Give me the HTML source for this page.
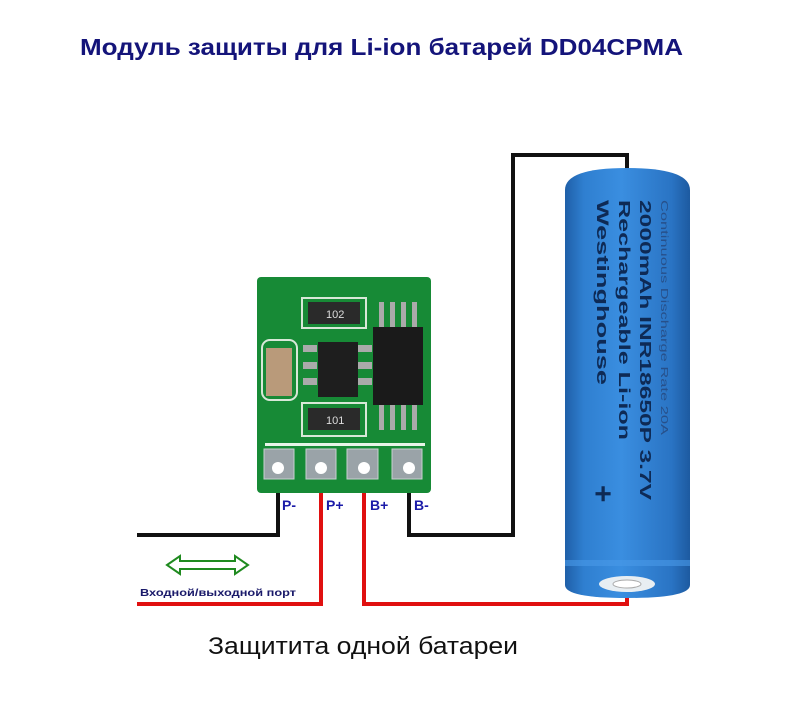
<!DOCTYPE html>
<html><head><meta charset="utf-8"><style>
html,body{margin:0;padding:0;background:#fff;width:800px;height:714px;overflow:hidden}
svg{display:block}
</style></head><body>
<svg width="800" height="714" viewBox="0 0 800 714" xmlns="http://www.w3.org/2000/svg" font-family="Liberation Sans, sans-serif">
<defs>
<linearGradient id="bat" x1="0" x2="1" y1="0" y2="0">
<stop offset="0" stop-color="#1f5fa8"/><stop offset="0.15" stop-color="#2f7fd0"/><stop offset="0.45" stop-color="#3a8ee0"/><stop offset="0.85" stop-color="#2a74c4"/><stop offset="1" stop-color="#1d5aa0"/>
</linearGradient>
</defs>
<text x="80" y="55" font-size="23" font-weight="bold" fill="#14147a" textLength="603" lengthAdjust="spacingAndGlyphs">Модуль защиты для Li-ion батарей DD04CPMA</text>

<polyline points="278,470 278,535 137,535" fill="none" stroke="#111" stroke-width="4"/>
<polyline points="409,470 409,535 513,535 513,155 627,155 627,172" fill="none" stroke="#111" stroke-width="4"/>
<polyline points="321,470 321,604 137,604" fill="none" stroke="#e01010" stroke-width="4"/>
<polyline points="364,470 364,604 627,604 627,588" fill="none" stroke="#e01010" stroke-width="4"/>

<rect x="257" y="277" width="174" height="216" rx="4" fill="#178a36"/>
<rect x="265" y="443" width="160" height="3" fill="#e8f5e8"/>
<g fill="#9aa3a8" stroke="#c8d0d0" stroke-width="1">
<rect x="264" y="449" width="30" height="30"/><rect x="306" y="449" width="30" height="30"/><rect x="347" y="449" width="31" height="30"/><rect x="392" y="449" width="30" height="30"/>
</g>
<g fill="#fff"><circle cx="278" cy="468" r="6"/><circle cx="321" cy="468" r="6"/><circle cx="364" cy="468" r="6"/><circle cx="409" cy="468" r="6"/></g>
<rect x="302" y="298" width="64" height="30" fill="none" stroke="#d8e8d8" stroke-width="2"/>
<rect x="308" y="302" width="52" height="22" fill="#2a2a2a"/><text x="326" y="318" font-size="11" fill="#ddd">102</text>
<rect x="302" y="403" width="64" height="33" fill="none" stroke="#d8e8d8" stroke-width="2"/>
<rect x="308" y="408" width="52" height="22" fill="#2a2a2a"/><text x="326" y="424" font-size="11" fill="#ddd">101</text>
<rect x="262" y="340" width="35" height="60" rx="8" fill="none" stroke="#d8e8d8" stroke-width="2"/>
<rect x="266" y="348" width="26" height="48" fill="#b99a7a"/>
<rect x="318" y="342" width="40" height="55" fill="#1e1e1e"/>
<g fill="#aaa"><rect x="303" y="345" width="14" height="7"/><rect x="303" y="362" width="14" height="7"/><rect x="303" y="378" width="14" height="7"/><rect x="358" y="345" width="14" height="7"/><rect x="358" y="362" width="14" height="7"/><rect x="358" y="378" width="14" height="7"/></g>
<rect x="373" y="327" width="50" height="78" fill="#1a1a1a"/>
<g fill="#aaa"><rect x="379" y="302" width="5" height="25"/><rect x="390" y="302" width="5" height="25"/><rect x="401" y="302" width="5" height="25"/><rect x="412" y="302" width="5" height="25"/>
<rect x="379" y="405" width="5" height="25"/><rect x="390" y="405" width="5" height="25"/><rect x="401" y="405" width="5" height="25"/><rect x="412" y="405" width="5" height="25"/></g>

<g font-size="14" font-weight="bold" fill="#1a1aa8">
<text x="282" y="510">P-</text><text x="326" y="510">P+</text><text x="370" y="510">B+</text><text x="414" y="510">B-</text>
</g>

<polygon points="167,565 180,556 180,561 235,561 235,556 248,565 235,574 235,569 180,569 180,574" fill="#fff" stroke="#1f8a1f" stroke-width="2"/>
<text x="140" y="596" font-size="10.5" font-weight="bold" fill="#1a1a6a" textLength="156" lengthAdjust="spacingAndGlyphs">Входной/выходной порт</text>
<text x="208" y="654" font-size="24" fill="#111" textLength="310" lengthAdjust="spacingAndGlyphs">Защитита одной батареи</text>

<path d="M565,190 Q565,168 627,168 Q690,168 690,190 L690,585 Q690,598 627,598 Q565,598 565,585 Z" fill="url(#bat)"/>
<rect x="565" y="560" width="125" height="6" fill="#4a9ae8" opacity="0.6"/>
<ellipse cx="627" cy="584" rx="28" ry="8" fill="#e8eef2"/>
<ellipse cx="627" cy="584" rx="14" ry="4" fill="#fff" stroke="#aaa"/>
<g transform="translate(627,380) rotate(90)" fill="#0e2a55" font-weight="bold">
<text x="-180" y="30" font-size="17" textLength="185" lengthAdjust="spacingAndGlyphs">Westinghouse</text>
<text x="-180" y="8" font-size="16" textLength="240" lengthAdjust="spacingAndGlyphs">Rechargeable Li-ion</text>
<text x="-180" y="-13" font-size="16" textLength="300" lengthAdjust="spacingAndGlyphs">2000mAh  INR18650P   3.7V</text>
<text x="-180" y="-34" font-size="10" font-weight="normal" fill="#27508a" textLength="235" lengthAdjust="spacingAndGlyphs">Continuous Discharge Rate 20A</text>
<text x="105" y="34" font-size="30">+</text>
</g>
</svg>
</body></html>
